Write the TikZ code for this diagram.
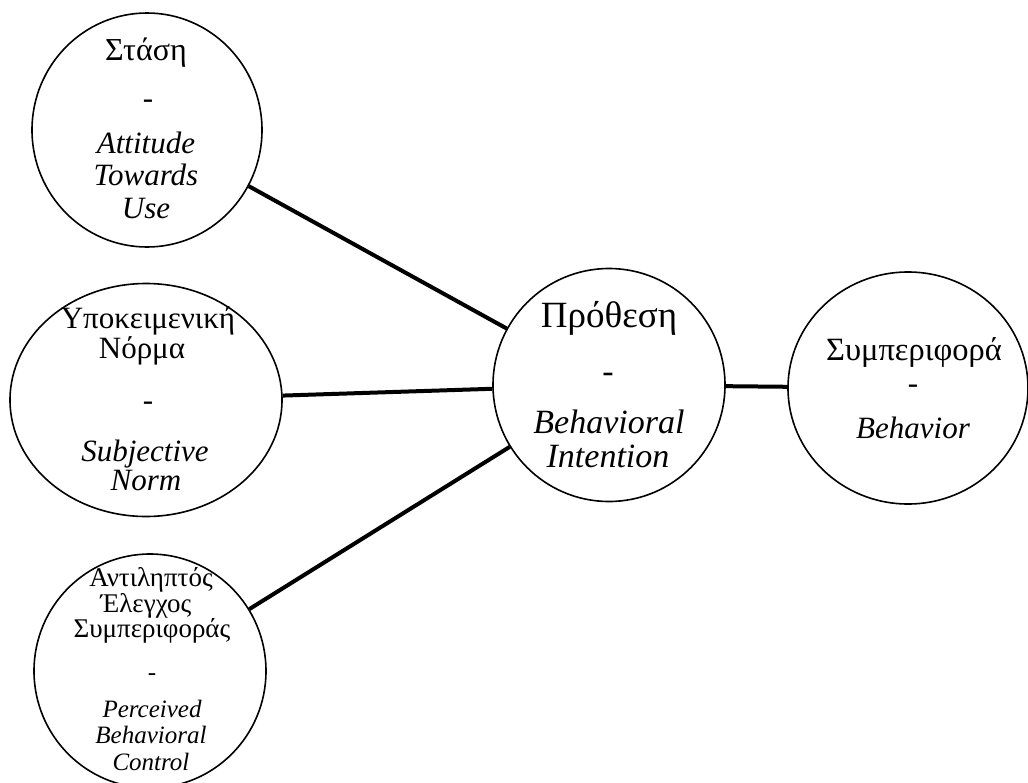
\documentclass[tikz,border=0pt]{standalone}
\usepackage{fontspec}
\setmainfont{Liberation Serif}
\usetikzlibrary{shapes.geometric}

\tikzset{
  bubble/.style={ellipse, draw=black, line width=1.6pt, fill=white, inner sep=0pt},
  conn/.style={draw=black, line width=4pt},
  txt/.style={anchor=base, inner sep=0pt, text=black},
  sz/.style={font=\fontsize{#1}{#1}\selectfont},
}

\begin{document}
\begin{tikzpicture}[x=1pt, y=-1pt]
  \clip (0,0) rectangle (1028,782);
  \fill[white] (0,0) rectangle (1028,782);

  % constructs
  \node[bubble, minimum width=230pt, minimum height=234pt] (att) at (147,130) {};
  \node[bubble, minimum width=272pt, minimum height=233pt] (sub) at (146,400) {};
  \node[bubble, minimum width=232pt, minimum height=234pt] (pbc) at (150,671) {};
  \node[bubble, minimum width=232pt, minimum height=233pt] (int) at (609,385) {};
  \node[bubble, minimum width=240pt, minimum height=232pt] (beh) at (908,388) {};

  % links
  \draw[conn] (att) -- (int);
  \draw[conn] (sub) -- (int);
  \draw[conn] (pbc) -- (int);
  \draw[conn] (int) -- (beh);

  % attitude
  \begin{scope}[every node/.style={txt, sz=31}]
    \node[sz=32] (att1) at (146,60) {Στάση};
    \node (att2) at (148,108) {-};
    \node (att3) at (146,153) {\itshape Attitude};
    \node (att4) at (146,185) {\itshape Towards};
    \node (att5) at (146,218) {\itshape Use};
  \end{scope}

  % subjective norm
  \begin{scope}[every node/.style={txt, sz=31}]
    \node (sub1) at (148,328) {Υποκειμενική};
    \node (sub2) at (142,358) {Νόρμα};
    \node (sub3) at (148,410) {-};
    \node (sub4) at (145,461) {\itshape Subjective};
    \node (sub5) at (146,490) {\itshape Norm};
  \end{scope}

  % perceived behavioural control
  \begin{scope}[every node/.style={txt, sz=25}]
    \node[sz=27] (pbc1) at (151,586) {Αντιληπτός};
    \node[sz=27] (pbc2) at (146,612) {Έλεγχος};
    \node[sz=27] (pbc3) at (152,637) {Συμπεριφοράς};
    \node (pbc4) at (152,680) {-};
    \node (pbc5) at (152,717) {\itshape Perceived};
    \node (pbc6) at (151,743) {\itshape Behavioral};
    \node (pbc7) at (151,770) {\itshape Control};
  \end{scope}

  % intention
  \begin{scope}[every node/.style={txt, sz=34}]
    \node[sz=37] (int1) at (609,327) {Πρόθεση};
    \node (int2) at (608,382) {-};
    \node (int3) at (609,433) {\itshape Behavioral};
    \node (int4) at (608,467) {\itshape Intention};
  \end{scope}

  % behaviour
  \begin{scope}[every node/.style={txt, sz=31}]
    \node[sz=32.5] (beh1) at (914,360) {Συμπεριφορά};
    \node (beh2) at (913,393) {-};
    \node (beh3) at (913,438) {\itshape Behavior};
  \end{scope}
\end{tikzpicture}
\end{document}
